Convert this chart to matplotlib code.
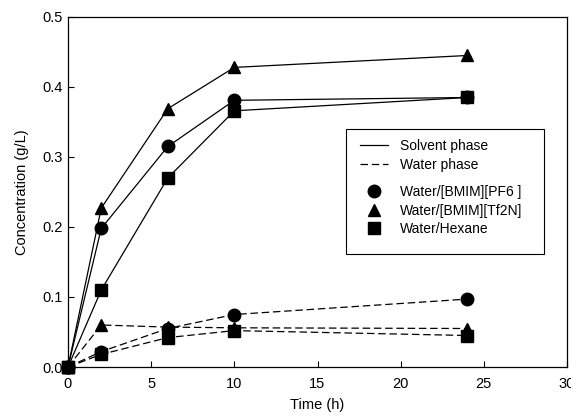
import matplotlib
matplotlib.use("Agg")
import matplotlib.pyplot as plt
from matplotlib.lines import Line2D
from matplotlib.patches import Rectangle

plt.rcParams['font.family'] = ['Liberation Sans', 'DejaVu Sans']

time = [0, 2, 6, 10, 24]
solvent_pf6 = [0.0, 0.198, 0.315, 0.381, 0.385]
solvent_tf2n = [0.0, 0.227, 0.369, 0.428, 0.445]
solvent_hex = [0.0, 0.110, 0.270, 0.366, 0.385]
water_pf6 = [0.0, 0.022, 0.055, 0.075, 0.097]
water_tf2n = [0.0, 0.060, 0.057, 0.056, 0.055]
water_hex = [0.0, 0.018, 0.042, 0.052, 0.045]
labels = ["Water/[BMIM][PF6 ]", "Water/[BMIM][Tf2N]", "Water/Hexane"]
phase_labels = ["Solvent phase", "Water phase"]
markers = ["o", "^", "s"]
msizes = [9, 9, 8]

W, H = 571, 419
fig = plt.figure(figsize=(W/100, H/100), dpi=100)
ax = fig.add_axes([68/W, 1 - 367/H, (567-68)/W, (367-17)/H])

dash = (0, (6, 3))
for s, m, z in zip([solvent_pf6, solvent_tf2n, solvent_hex], markers, msizes):
    ax.plot(time, s, color='black', lw=0.9, marker=m, ms=z, clip_on=False)
for s, m, z in zip([water_pf6, water_tf2n, water_hex], markers, msizes):
    ax.plot(time, s, color='black', lw=0.9, ls=dash, marker=m, ms=z, clip_on=False)

ax.set_xlim(0, 30)
ax.set_ylim(0, 0.5)
ax.set_xticks([0, 5, 10, 15, 20, 25, 30])
ax.set_yticks([0.0, 0.1, 0.2, 0.3, 0.4, 0.5])
ax.set_yticklabels(["0.0", "0.1", "0.2", "0.3", "0.4", "0.5"])
ax.tick_params(direction='in', length=4, width=0.8, labelsize=10.5, top=False, right=False)
ax.tick_params(axis='x', pad=7)
for sp in ax.spines.values():
    sp.set_linewidth(0.9)
ax.set_xlabel("Time (h)", fontsize=10.5, labelpad=5)
ax.set_ylabel("Concentration (g/L)", fontsize=10.5, labelpad=10)

# legend frame in figure pixel coords
fig.patches.append(Rectangle((346/W, 1 - 254/H), (544-346)/W, (254-129)/H,
                             transform=fig.transFigure, facecolor='white',
                             edgecolor='black', lw=0.8, zorder=4))

common = dict(loc='upper left', fontsize=10, frameon=False, handlelength=2.0,
              handletextpad=0.86, borderpad=0, labelspacing=0.33, borderaxespad=0)
h1 = [Line2D([], [], color='black', lw=0.9),
      Line2D([], [], color='black', lw=0.9, ls=dash)]
leg1 = fig.legend(h1, phase_labels, bbox_to_anchor=(360/W, 1 - 139/H), **common)
h2 = [Line2D([], [], color='black', ls='none', marker=m, ms=z) for m, z in zip(markers, msizes)]
leg2 = fig.legend(h2, labels, bbox_to_anchor=(360/W, 1 - 185/H), **common)
leg1.set_zorder(5)
leg2.set_zorder(5)

fig.savefig("out.png", dpi=100)
